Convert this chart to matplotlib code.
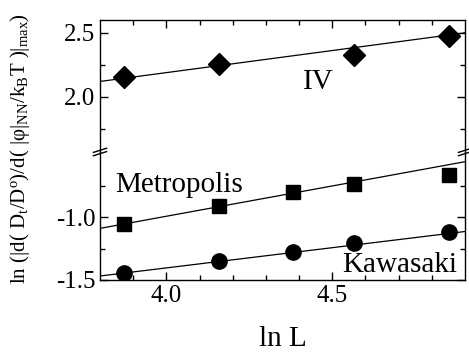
import numpy as np
import matplotlib
matplotlib.use("Agg")
import matplotlib.pyplot as plt
from matplotlib.ticker import FixedLocator

plt.rcParams['font.family'] = ['Liberation Serif', 'DejaVu Serif']
plt.rcParams['mathtext.fontset'] = 'custom'
plt.rcParams['mathtext.rm'] = 'Liberation Serif'
plt.rcParams['mathtext.it'] = 'Liberation Serif:italic'

# data
lnL = [3.871, 4.159, 4.382, 4.564, 4.852]
x_iv = [3.871, 4.159, 4.564, 4.852]
y_iv = [2.154, 2.258, 2.330, 2.477]
y_metro = [-1.056, -0.913, -0.804, -0.740, -0.667]
y_kawa = [-1.442, -1.347, -1.276, -1.210, -1.118]
# fitted lines (slope, intercept)
fit_iv = (0.345, 0.809)
fit_metro = (0.481, -2.918)
fit_kawa = (0.321, -2.688)

xlim = (3.8, 4.9)
xfit = np.array(xlim)

W, H = 469, 353
fig = plt.figure(figsize=(W/100, H/100), dpi=100)
left, right = 100/W, 465/W
ytop, ybreak, ybot = 20, 152, 280
ax1 = fig.add_axes([left, 1-ybreak/H, right-left, (ybreak-ytop)/H])
ax2 = fig.add_axes([left, 1-ybot/H, right-left, (ybot-ybreak)/H])

ax1.plot(xfit, fit_iv[0]*xfit+fit_iv[1], color='black', lw=0.9)
ax1.plot(x_iv, y_iv, linestyle='none', marker='D', ms=11, color='black')
ax2.plot(xfit, fit_metro[0]*xfit+fit_metro[1], color='black', lw=0.9)
ax2.plot(lnL, y_metro, linestyle='none', marker='s', ms=10, color='black')
ax2.plot(xfit, fit_kawa[0]*xfit+fit_kawa[1], color='black', lw=0.9)
ax2.plot(lnL, y_kawa, linestyle='none', marker='o', ms=11, color='black')

ax1.set_ylim(1.569, 2.60)
ax2.set_ylim(-1.5, -0.484)
for ax in (ax1, ax2):
    ax.set_xlim(*xlim)
    ax.xaxis.set_major_locator(FixedLocator([4.0, 4.5]))
    ax.xaxis.set_minor_locator(FixedLocator([3.9, 4.1, 4.2, 4.3, 4.4, 4.6, 4.7, 4.8]))
    ax.tick_params(which='both', direction='in', top=True, right=True, width=1.0, labelsize=18)
    ax.tick_params(which='major', length=6)
    ax.tick_params(which='minor', length=3.5)
    for s in ax.spines.values():
        s.set_linewidth(1.0)
    ax.patch.set_alpha(0)

ax1.yaxis.set_major_locator(FixedLocator([2.0, 2.5]))
ax1.yaxis.set_minor_locator(FixedLocator([1.75, 2.25]))
ax1.set_yticklabels(['2.0', '2.5'])
ax2.yaxis.set_major_locator(FixedLocator([-1.5, -1.0]))
ax2.yaxis.set_minor_locator(FixedLocator([-1.25, -0.75]))
ax2.set_yticklabels(['-1.5', '-1.0'])
ax1.spines['bottom'].set_visible(False)
ax2.spines['top'].set_visible(False)
ax1.tick_params(which='both', bottom=False, labelbottom=False)
ax2.tick_params(which='both', top=False)
ax2.set_xticklabels(['4.0', '4.5'])

# break marks
for xs in (0, 1):
    for dy in (-0.013, 0.013):
        ax2.plot([xs-0.018, xs+0.018], [1+dy-0.016, 1+dy+0.016], transform=ax2.transAxes,
                 color='black', lw=1.0, clip_on=False)

ax1.text(4.457, 2.117, 'IV', fontsize=21, ha='center', va='center')
ax2.text(3.845, -0.80, 'Metropolis', fontsize=21, ha='left', va='baseline')
ax2.text(4.875, -1.434, 'Kawasaki', fontsize=21, ha='right', va='baseline')

ax2.set_xlabel('ln L', fontsize=21, labelpad=14)
fig.text(20/W, 1-149/H,
         r'ln (|d( D$_\mathrm{t}$/D$^\mathrm{o}$)/d( |φ|$_\mathrm{NN}$/k$_\mathrm{B}$T )|$_\mathrm{max}$)',
         rotation=90, fontsize=15, ha='center', va='center')

fig.savefig('out.png', dpi=100)
